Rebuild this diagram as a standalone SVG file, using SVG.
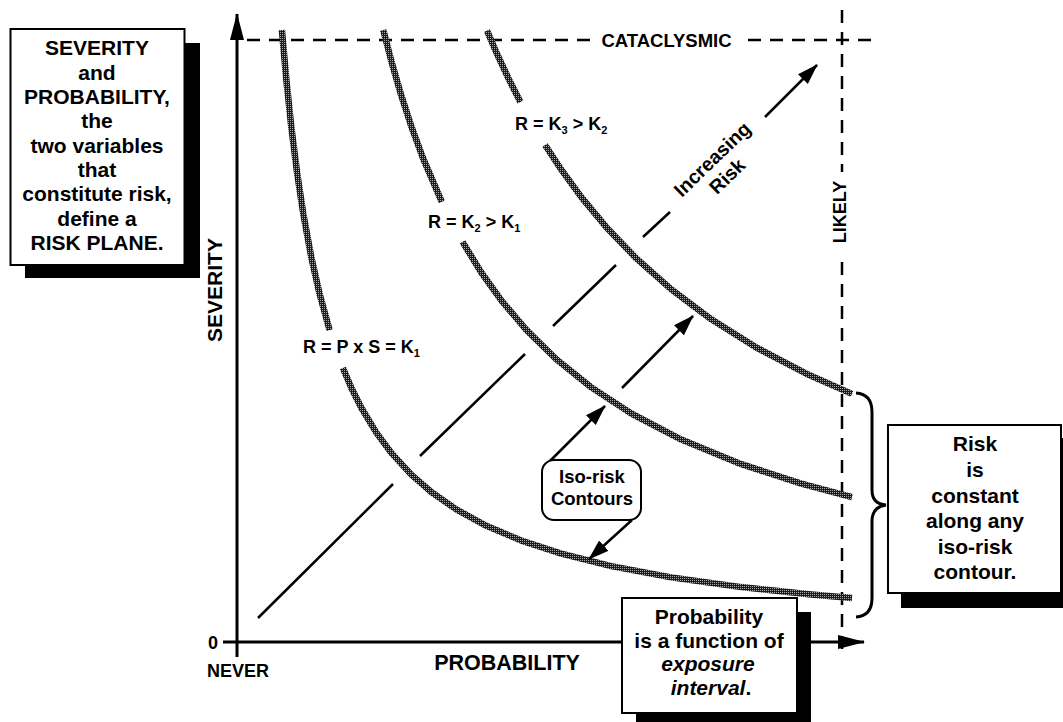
<svg xmlns="http://www.w3.org/2000/svg" width="1063" height="722" viewBox="0 0 1063 722">
<style>
text{font-family:"Liberation Sans",Arial,sans-serif;font-weight:bold;fill:#000}
.t21{font-size:21px}
.t18{font-size:18px}
.mid{text-anchor:middle}
.box{fill:#fff;stroke:#000;stroke-width:2}
.shadow{fill:#000}
.curve{fill:none;stroke:url(#ht);stroke-width:6.5;stroke-linejoin:round}
.ln{fill:none;stroke:#000;stroke-width:2.5}
.axis{fill:none;stroke:#000;stroke-width:3}
.dash{fill:none;stroke:#000;stroke-width:2.5;stroke-dasharray:13 9}
.sub{font-size:11px}
</style>
<defs>
<pattern id="ht" width="2" height="2" patternUnits="userSpaceOnUse"><rect width="2" height="2" fill="#1c1c1c"/><rect width="1" height="1" fill="#a8a8a8"/></pattern>
<marker id="arr" markerUnits="userSpaceOnUse" markerWidth="22" markerHeight="16" refX="20" refY="7" orient="auto"><path d="M0,0 L21,7 L0,14 z" fill="#000"/></marker>
<marker id="arrL" markerUnits="userSpaceOnUse" markerWidth="28" markerHeight="16" refX="26" refY="7" orient="auto"><path d="M0,0 L27,7 L0,14 z" fill="#000"/></marker>
</defs>
<rect width="1063" height="722" fill="#fff"/>

<g id="axes">
<line class="axis" x1="237" y1="657" x2="237" y2="14" marker-end="url(#arrL)"/>
<line class="axis" x1="223" y1="642" x2="864" y2="642" marker-end="url(#arrL)"/>
<text class="t18" x="213" y="648.5" text-anchor="middle">0</text>
<text class="t18" x="238" y="677" text-anchor="middle">NEVER</text>
<text x="507" y="670" text-anchor="middle" style="font-size:21.5px">PROBABILITY</text>
<text class="t21" transform="translate(221.5,290) rotate(-90)" text-anchor="middle">SEVERITY</text>
<polyline class="dash" points="247,40 592,40"/>
<polyline class="dash" points="748,40 880,40"/>
<text x="666.5" y="46.5" text-anchor="middle" style="font-size:18.5px">CATACLYSMIC</text>
<polyline class="dash" points="842,10 842,172"/>
<polyline class="dash" points="842,262 842,656"/>
<text class="t18" transform="translate(845.5,212) rotate(-90)" text-anchor="middle">LIKELY</text>
</g>

<g id="contours">
<polyline class="curve" points="281.9,30 286.3,79.4 291.3,126.8 297.3,174.3 303.3,213.8 311.3,257.2 319.3,292.8 329.6,330.1"/>
<polyline class="curve" points="342.9,368 351.3,387.7 361.3,407.7 376.3,432.6 391.3,452.9 411.3,474.6 431.3,492 456.3,509.4 486.3,525.8 521.3,540.6 561.3,553.7 611.3,566.1 671.3,577.4 741.3,587.1 811.3,594.5 852,598.1"/>
<polyline class="curve" points="383.3,30 391.3,61 401.3,95.6 411.3,126.3 423.3,158.9 441.8,201.9"/>
<polyline class="curve" points="462.5,241.9 481.3,272.5 501.3,300.4 526.3,329.9 556.3,359.3 591.3,387.4 631.3,413.5 681.3,439.6 741.3,464.2 801.3,483.6 852,497.1"/>
<polyline class="curve" points="487,30.6 496.3,52.3 508.3,78.1 520.4,102"/>
<polyline class="curve" points="545.1,145 561.3,169.7 581.3,197.1 606.3,227.2 636.3,258.4 671.3,289.4 711.3,319.3 756.3,347.5 806.3,373.7 852,393.9"/>
<text class="t18" x="303" y="353">R = P x S = K<tspan class="sub" dy="4">1</tspan></text>
<text class="t18" x="428" y="228">R = K<tspan class="sub" dy="4">2</tspan><tspan dy="-4"> &gt; K</tspan><tspan class="sub" dy="4">1</tspan></text>
<text class="t18" x="515" y="130">R = K<tspan class="sub" dy="4">3</tspan><tspan dy="-4"> &gt; K</tspan><tspan class="sub" dy="4">2</tspan></text>
</g>

<g id="connectors">
<line class="ln" x1="258" y1="618" x2="393" y2="484"/>
<line class="ln" x1="420" y1="456" x2="525" y2="354"/>
<line class="ln" x1="553" y1="326" x2="616" y2="265"/>
<line class="ln" x1="643" y1="237" x2="670" y2="212"/>
<line class="ln" x1="765" y1="117" x2="817" y2="65" marker-end="url(#arr)"/>
<line class="ln" x1="550" y1="461" x2="605" y2="406" marker-end="url(#arr)"/>
<line class="ln" x1="622" y1="388" x2="693" y2="316" marker-end="url(#arr)"/>
<line class="ln" x1="632" y1="520" x2="589" y2="559" marker-end="url(#arr)"/>
<path d="M856,393 Q872,394 872,412 L872,490 Q872,504 886,505 Q872,507 872,521 L872,598 Q872,616 856,617" fill="none" stroke="#000" stroke-width="3"/>
</g>

<g id="increasing-risk" transform="translate(712,159) rotate(-44)">
<text class="mid" x="0" y="7" style="font-size:19.5px">Increasing</text>
<text class="mid" x="-1" y="29.6" style="font-size:19.5px">Risk</text>
</g>

<g id="severity-probability-box">
<rect class="shadow" x="25" y="43" width="175" height="235"/>
<rect class="box" x="10.5" y="29" width="174" height="236"/>
<text class="t21 mid" x="97" y="55">SEVERITY</text>
<text class="t21 mid" x="97" y="79.5">and</text>
<text class="t21 mid" x="97" y="104">PROBABILITY,</text>
<text class="t21 mid" x="97" y="128">the</text>
<text class="t21 mid" x="97" y="152.5">two variables</text>
<text class="t21 mid" x="97" y="177">that</text>
<text class="t21 mid" x="97" y="201">constitute risk,</text>
<text class="t21 mid" x="97" y="225.5">define a</text>
<text class="t21 mid" x="97" y="250">RISK PLANE.</text>
</g>

<g id="risk-constant-box">
<rect class="shadow" x="901" y="438" width="175" height="170"/>
<rect class="box" x="888" y="425" width="173" height="168"/>
<text class="t21 mid" x="975" y="451">Risk</text>
<text class="t21 mid" x="975" y="477">is</text>
<text class="t21 mid" x="975" y="502.5">constant</text>
<text class="t21 mid" x="975" y="528">along any</text>
<text class="t21 mid" x="975" y="553.5">iso-risk</text>
<text class="t21 mid" x="975" y="579">contour.</text>
</g>

<g id="iso-risk-box">
<rect class="box" x="542" y="460" width="99" height="60" rx="12" ry="12"/>
<text class="mid" x="592" y="483" style="font-size:18.5px">Iso-risk</text>
<text class="mid" x="592" y="505" style="font-size:18.5px">Contours</text>
</g>

<g id="exposure-box">
<rect class="shadow" x="636" y="612" width="175" height="115"/>
<rect class="box" x="622" y="598" width="175" height="115"/>
<text class="t21 mid" x="709" y="624">Probability</text>
<text class="t21 mid" x="709" y="647.5">is a function of</text>
<text class="t21 mid" x="708" y="671" font-style="italic">exposure</text>
<text class="t21 mid" x="711" y="694.5"><tspan font-style="italic">interval</tspan>.</text>
</g>
</svg>
